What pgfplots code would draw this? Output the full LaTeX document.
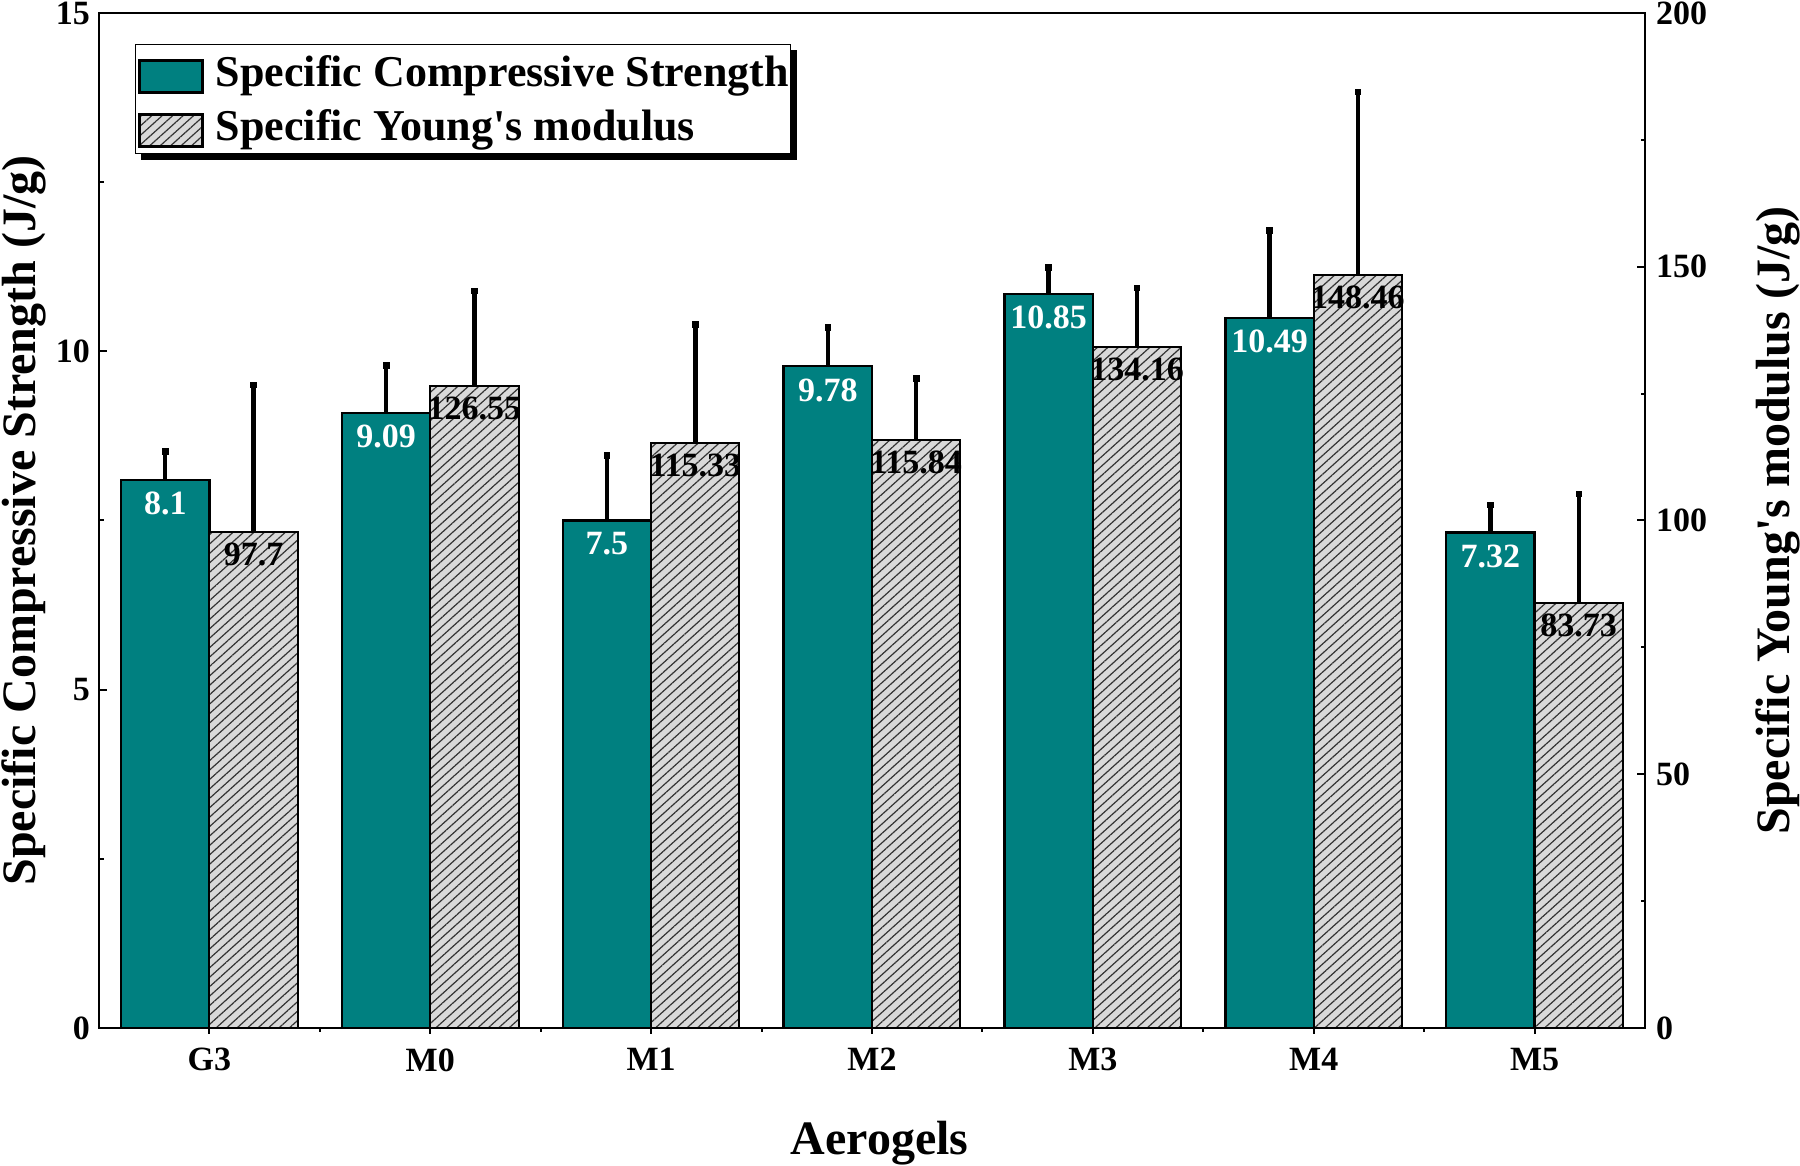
\documentclass[border=0pt]{standalone}
\usepackage{pgfplots}
\pgfplotsset{compat=1.18}
\usepackage{pgfplotstable}
\usepackage{fontspec}
\setmainfont{Liberation Serif}
\usetikzlibrary{patterns.meta}
\definecolor{tealc}{RGB}{0,128,128}
\definecolor{hatchbg}{RGB}{217,217,217}
\newcommand\ticksz{\bfseries\fontsize{17pt}{20pt}\selectfont}
\newcommand\labsz{\bfseries\fontsize{24pt}{28pt}\selectfont}
\newcommand\legsz{\bfseries\fontsize{22pt}{26pt}\selectfont}

\pgfplotstableread{
x  y      e     lab
0  8.1    0.42  8.1
1  9.09   0.70  9.09
2  7.5    0.96  7.5
3  9.78   0.57  9.78
4  10.85  0.39  10.85
5  10.49  1.30  10.49
6  7.32   0.41  7.32
}\csdata
\pgfplotstableread{
x  y       e     lab
0  97.7    29.0  97.7
1  126.55  18.7  126.55
2  115.33  23.3  115.33
3  115.84  12.1  115.84
4  134.16  11.7  134.16
5  148.46  36.0  148.46
6  83.73   21.5  83.73
}\ymdata

\pgfplotsset{
  common/.style={at={(49.5pt,69pt)}, anchor=south west, scale only axis,
    width=773pt, height=507.5pt, xmin=-0.5, xmax=6.5,
    axis line style={line width=1pt}, tick style={line width=1pt, black},
    /pgf/number format/assume math mode=true},
  legimg/.style={legend image code/.code={\draw[##1, line width=1.2pt] (0pt,-10pt) rectangle (31.5pt,6pt);}},
  tealbar/.style={fill=tealc, draw=black, line width=1.2pt},
  hatchbar/.style={fill=hatchbg, draw=black, line width=1pt,
    postaction={pattern={Lines[angle=42,distance=3.5pt,line width=0.6pt]}, pattern color=black!80}},
  leg/.style={legend cell align=left,
    legend style={at={(axis description cs:0.0236,0.969)}, anchor=north west,
      draw=black, line width=0.5pt, font=\legsz,
      inner xsep=1.2pt, inner ysep=3pt, row sep=5.5pt, column sep=6pt,
      nodes={inner sep=0pt, text height=18pt, text depth=3.5pt}}},
}

\begin{document}
\begin{tikzpicture}
% left axis: compressive strength (its legend, in black, is the shadow of the visible legend)
\begin{axis}[common, ymin=0, ymax=15, xtick=\empty,
  ytick={0,5,10,15}, minor y tick num=1, ytick pos=left,
  tick align=inside, major tick length=4pt, minor tick length=2.3pt,
  yticklabel style={font=\ticksz, inner sep=0pt, xshift=-4.4pt},
  ylabel={Specific Compressive Strength (J/g)},
  ylabel style={font=\labsz, inner sep=0pt, at={(axis description cs:-0.0629,0.5)}, anchor=north},
  ybar, leg,
  legend style={xshift=3pt, yshift=-3pt, fill=black, text=black}]
\addplot[ybar, bar width=0.4, bar shift=-0.2, tealbar, legimg,
  point meta=explicit symbolic, nodes near coords,
  every node near coord/.append style={anchor=north, inner sep=0pt, yshift=-5.5pt, font=\ticksz, text=white},
  error bars/.cd, y dir=plus, y explicit,
  error bar style={line width=2.2pt, black, solid},
  error mark=square*, error mark options={mark size=1.4pt, line width=0.4pt, black, fill=black}]
  table[x=x, y=y, y error=e, meta=lab]{\csdata};
\addlegendimage{hatchbar, legimg}
\legend{\phantom{Specific Compressive Strength}, \phantom{Specific Young\textquotesingle s modulus}}
\end{axis}
% right axis: Young's modulus
\begin{axis}[common, ymin=0, ymax=200, xtick=\empty,
  axis x line=none, axis y line*=right,
  ytick={0,50,100,150,200}, minor y tick num=1,
  tick align=inside, major tick length=3.8pt, minor tick length=2pt,
  yticklabel style={font=\ticksz, inner sep=0pt, xshift=5.3pt},
  ylabel={Specific Young\textquotesingle s modulus (J/g)},
  ylabel style={font=\labsz, inner sep=0pt, at={(axis description cs:1.1003,0.5)}, anchor=south},
  ybar, leg, legend style={fill=white}]
\addlegendimage{tealbar, legimg}
\addplot[ybar, bar width=0.4, bar shift=0.2, hatchbar, legimg,
  point meta=explicit symbolic, nodes near coords,
  every node near coord/.append style={anchor=north, inner sep=0pt, yshift=-5pt, font=\ticksz, text=black},
  error bars/.cd, y dir=plus, y explicit,
  error bar style={line width=2.2pt, black, solid},
  error mark=square*, error mark options={mark size=1.4pt, line width=0.4pt, black, fill=black}]
  table[x=x, y=y, y error=e, meta=lab]{\ymdata};
\legend{Specific Compressive Strength, Specific Young\textquotesingle s modulus}
\end{axis}
% x axis
\begin{axis}[common, ymin=0, ymax=1,
  axis y line=none, axis x line*=bottom,
  xtick={0,1,2,3,4,5,6}, xticklabels={G3,M0,M1,M2,M3,M4,M5},
  minor x tick num=1, tick align=outside,
  major tick length=3pt, minor tick length=2pt,
  xticklabel style={font=\ticksz, inner sep=0pt, yshift=-7pt, anchor=north},
  xlabel={Aerogels},
  xlabel style={font=\labsz, inner sep=0pt, at={(axis description cs:0.505,-0.125)}, anchor=base}]
\end{axis}
\pgfresetboundingbox
\path[use as bounding box] (0,0) rectangle (900pt,583pt);
\end{tikzpicture}
\end{document}
